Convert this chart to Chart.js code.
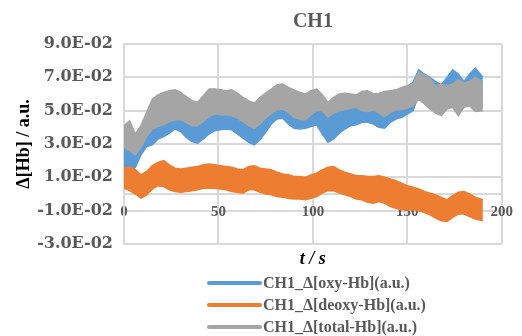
<!DOCTYPE html>
<html>
<head>
<meta charset="utf-8">
<script src="https://cdn.jsdelivr.net/npm/chart.js@4/dist/chart.umd.min.js"></script>
<style>
  html, body { margin: 0; padding: 0; background: #fff; }
  #wrap { position: relative; width: 522px; height: 336px; }
  #legend { position: absolute; left: 207px; top: 272px; font: bold 16px "Liberation Serif", serif; color: #595959; }
  .item { display: flex; align-items: center; height: 22px; white-space: nowrap; }
  .swatch { width: 55px; height: 4px; border-radius: 2px; margin-right: 1px; }
</style>
</head>
<body>
<div id="wrap">
  <canvas id="c" width="522" height="336"></canvas>
  <div id="legend"></div>
</div>
<script>
// Time axis (s)
const time = [0,3,6,9,12,15,18,21,24,27,30,33,36,39,42,45,48,51,54,57,60,63,66,69,72,75,78,81,84,87,90,93,96,99,102,105,108,111,114,117,120,123,126,129,132,135,138,141,144,147,150,153,156,159,162,165,168,171,174,177,180,183,186,190];

// Upper / lower envelope of each noisy signal (a.u.)
const oxyHigh = [0.0360,0.0370,0.0340,0.0390,0.0470,0.0500,0.0530,0.0545,0.0560,0.0580,
  0.0570,0.0540,0.0510,0.0500,0.0530,0.0560,0.0580,0.0580,0.0585,0.0580,
  0.0560,0.0535,0.0510,0.0495,0.0525,0.0570,0.0610,0.0640,0.0645,0.0620,
  0.0595,0.0590,0.0590,0.0600,0.0610,0.0560,0.0510,0.0530,0.0560,0.0585,
  0.0595,0.0590,0.0610,0.0610,0.0595,0.0595,0.0590,0.0610,0.0620,0.0635,
  0.0645,0.0670,0.0745,0.0720,0.0700,0.0675,0.0655,0.0700,0.0745,0.0720,
  0.0675,0.0720,0.0755,0.0700];
const oxyLow = [0.0165,0.0170,0.0160,0.0235,0.0285,0.0295,0.0330,0.0345,0.0365,0.0390,
  0.0375,0.0340,0.0315,0.0305,0.0330,0.0360,0.0380,0.0385,0.0390,0.0385,
  0.0360,0.0335,0.0310,0.0295,0.0325,0.0370,0.0420,0.0450,0.0455,0.0420,
  0.0395,0.0390,0.0395,0.0405,0.0415,0.0360,0.0310,0.0330,0.0365,0.0390,
  0.0410,0.0415,0.0430,0.0430,0.0420,0.0400,0.0395,0.0430,0.0450,0.0460,
  0.0480,0.0500,0.0590,0.0560,0.0530,0.0505,0.0490,0.0530,0.0540,0.0500,
  0.0540,0.0550,0.0520,0.0520];

const deoxyHigh = [0.0175,0.0195,0.0145,0.0115,0.0135,0.0170,0.0190,0.0200,0.0175,0.0155,
  0.0150,0.0155,0.0160,0.0165,0.0175,0.0180,0.0175,0.0170,0.0165,0.0160,
  0.0150,0.0145,0.0165,0.0170,0.0155,0.0150,0.0145,0.0130,0.0120,0.0115,
  0.0105,0.0105,0.0100,0.0115,0.0125,0.0145,0.0160,0.0165,0.0145,0.0130,
  0.0120,0.0110,0.0110,0.0105,0.0105,0.0110,0.0100,0.0090,0.0080,0.0065,
  0.0050,0.0040,0.0030,0.0015,0.0005,-0.0005,-0.0020,-0.0035,-0.0010,0.0010,
  0.0015,0.0000,-0.0020,-0.0035];
const deoxyLow = [0.0035,0.0020,0.0000,-0.0025,-0.0005,0.0030,0.0050,0.0045,0.0025,0.0015,
  0.0010,0.0015,0.0020,0.0025,0.0035,0.0035,0.0035,0.0030,0.0025,0.0015,
  0.0010,0.0005,0.0025,0.0025,0.0010,0.0000,-0.0005,-0.0015,-0.0020,-0.0025,
  -0.0030,-0.0030,-0.0035,-0.0025,-0.0015,0.0005,0.0020,0.0020,0.0005,-0.0005,
  -0.0015,-0.0030,-0.0035,-0.0050,-0.0055,-0.0045,-0.0055,-0.0075,-0.0085,-0.0095,
  -0.0095,-0.0095,-0.0100,-0.0110,-0.0125,-0.0145,-0.0160,-0.0165,-0.0140,-0.0120,
  -0.0120,-0.0135,-0.0150,-0.0160];

const totalHigh = [0.0410,0.0440,0.0360,0.0410,0.0490,0.0570,0.0595,0.0610,0.0620,0.0625,
  0.0610,0.0585,0.0560,0.0550,0.0590,0.0630,0.0630,0.0625,0.0620,0.0625,
  0.0605,0.0580,0.0560,0.0545,0.0580,0.0605,0.0630,0.0655,0.0660,0.0640,
  0.0625,0.0610,0.0600,0.0620,0.0630,0.0595,0.0550,0.0580,0.0600,0.0605,
  0.0600,0.0595,0.0615,0.0620,0.0600,0.0605,0.0615,0.0620,0.0625,0.0640,
  0.0650,0.0660,0.0730,0.0715,0.0695,0.0650,0.0660,0.0650,0.0660,0.0685,
  0.0665,0.0675,0.0700,0.0670];
const totalLow = [0.0280,0.0260,0.0235,0.0280,0.0345,0.0390,0.0405,0.0415,0.0435,0.0445,
  0.0445,0.0430,0.0410,0.0410,0.0435,0.0465,0.0480,0.0475,0.0475,0.0470,
  0.0455,0.0435,0.0410,0.0395,0.0420,0.0455,0.0485,0.0505,0.0510,0.0490,
  0.0460,0.0450,0.0445,0.0475,0.0500,0.0500,0.0460,0.0485,0.0500,0.0505,
  0.0515,0.0520,0.0500,0.0495,0.0505,0.0485,0.0465,0.0490,0.0505,0.0505,
  0.0515,0.0530,0.0570,0.0540,0.0510,0.0485,0.0470,0.0510,0.0520,0.0470,
  0.0520,0.0530,0.0495,0.0500];

const seriesNames = ['CH1_Δ[oxy-Hb](a.u.)', 'CH1_Δ[deoxy-Hb](a.u.)', 'CH1_Δ[total-Hb](a.u.)'];
const seriesColors = ['#5B9BD5', '#ED7D31', '#A5A5A5'];

const yTicks = { min: -0.03, max: 0.09, step: 0.02 };
const xTicks = { min: 0, max: 200, step: 50 };

function pts(arr) { return time.map((t, i) => ({ x: t, y: arr[i] })); }

// Each signal is a filled band between its upper and lower envelope
function band(name, high, low, color) {
  return [
    { label: name, data: pts(high), borderColor: color, backgroundColor: color,
      borderWidth: 1.5, pointRadius: 0, tension: 0, fill: '+1' },
    { label: name + ' (low)', data: pts(low), borderColor: color, backgroundColor: color,
      borderWidth: 1.5, pointRadius: 0, tension: 0, fill: false }
  ];
}

// First dataset is painted last, so total-Hb lies over oxy-Hb
const datasets = [
  ...band(seriesNames[2], totalHigh, totalLow, seriesColors[2]),
  ...band(seriesNames[0], oxyHigh, oxyLow, seriesColors[0]),
  ...band(seriesNames[1], deoxyHigh, deoxyLow, seriesColors[1])
];

function sci(v) {
  v = Math.round(v * 1e8) / 1e8;
  if (v === 0) return '0.0E+00';
  const e = Math.floor(Math.log10(Math.abs(v)) + 1e-9);
  const m = v / Math.pow(10, e);
  return m.toFixed(1) + 'E' + (e < 0 ? '-' : '+') + String(Math.abs(e)).padStart(2, '0');
}

const gridColor = '#D9D9D9';

new Chart(document.getElementById('c'), {
  type: 'line',
  data: { datasets },
  options: {
    responsive: false,
    animation: false,
    devicePixelRatio: 1,
    layout: { padding: { left: 0, right: 13, top: 0, bottom: 92 } },
    plugins: {
      legend: { display: false },
      tooltip: { enabled: false },
      title: {
        display: true, text: 'CH1', fullSize: false, color: '#595959',
        font: { family: '"Liberation Serif", serif', size: 20, weight: 'bold' },
        padding: { top: 10, bottom: 10 }
      }
    },
    scales: {
      x: {
        type: 'linear', position: { y: 0 },
        min: xTicks.min, max: xTicks.max,
        ticks: { stepSize: xTicks.step, padding: 9, color: '#595959', maxRotation: 0,
          font: { family: '"Liberation Serif", serif', size: 15, weight: 'bold' } },
        grid: { color: gridColor, lineWidth: 2, drawTicks: false },
        border: { display: true, color: gridColor, width: 2 },
        title: { display: true, text: 't / s', color: '#000',
          font: { family: '"Liberation Serif", serif', size: 18, weight: 'bold', style: 'italic' },
          padding: { top: 4, bottom: 4 } },
        afterFit: s => { s.height = 80; }
      },
      y: {
        type: 'linear', min: yTicks.min, max: yTicks.max,
        ticks: { stepSize: yTicks.step, padding: 11, color: '#595959', callback: v => sci(v),
          font: { family: '"DejaVu Serif", serif', size: 16, weight: 'bold' } },
        grid: { color: gridColor, lineWidth: 2, drawTicks: false },
        border: { display: true, color: gridColor, width: 2 },
        title: { display: true, text: 'Δ[Hb] / a.u.', color: '#000',
          font: { family: '"Liberation Serif", serif', size: 18, weight: 'bold' },
          padding: { top: 14, bottom: 4 } },
        afterFit: s => { s.width = 124; }
      }
    }
  }
});

// Legend as a single column under the axis title
const legend = document.getElementById('legend');
seriesNames.forEach((name, i) => {
  const row = document.createElement('div');
  row.className = 'item';
  const sw = document.createElement('span');
  sw.className = 'swatch';
  sw.style.background = seriesColors[i];
  const tx = document.createElement('span');
  tx.textContent = name;
  row.appendChild(sw);
  row.appendChild(tx);
  legend.appendChild(row);
});
</script>
</body>
</html>
